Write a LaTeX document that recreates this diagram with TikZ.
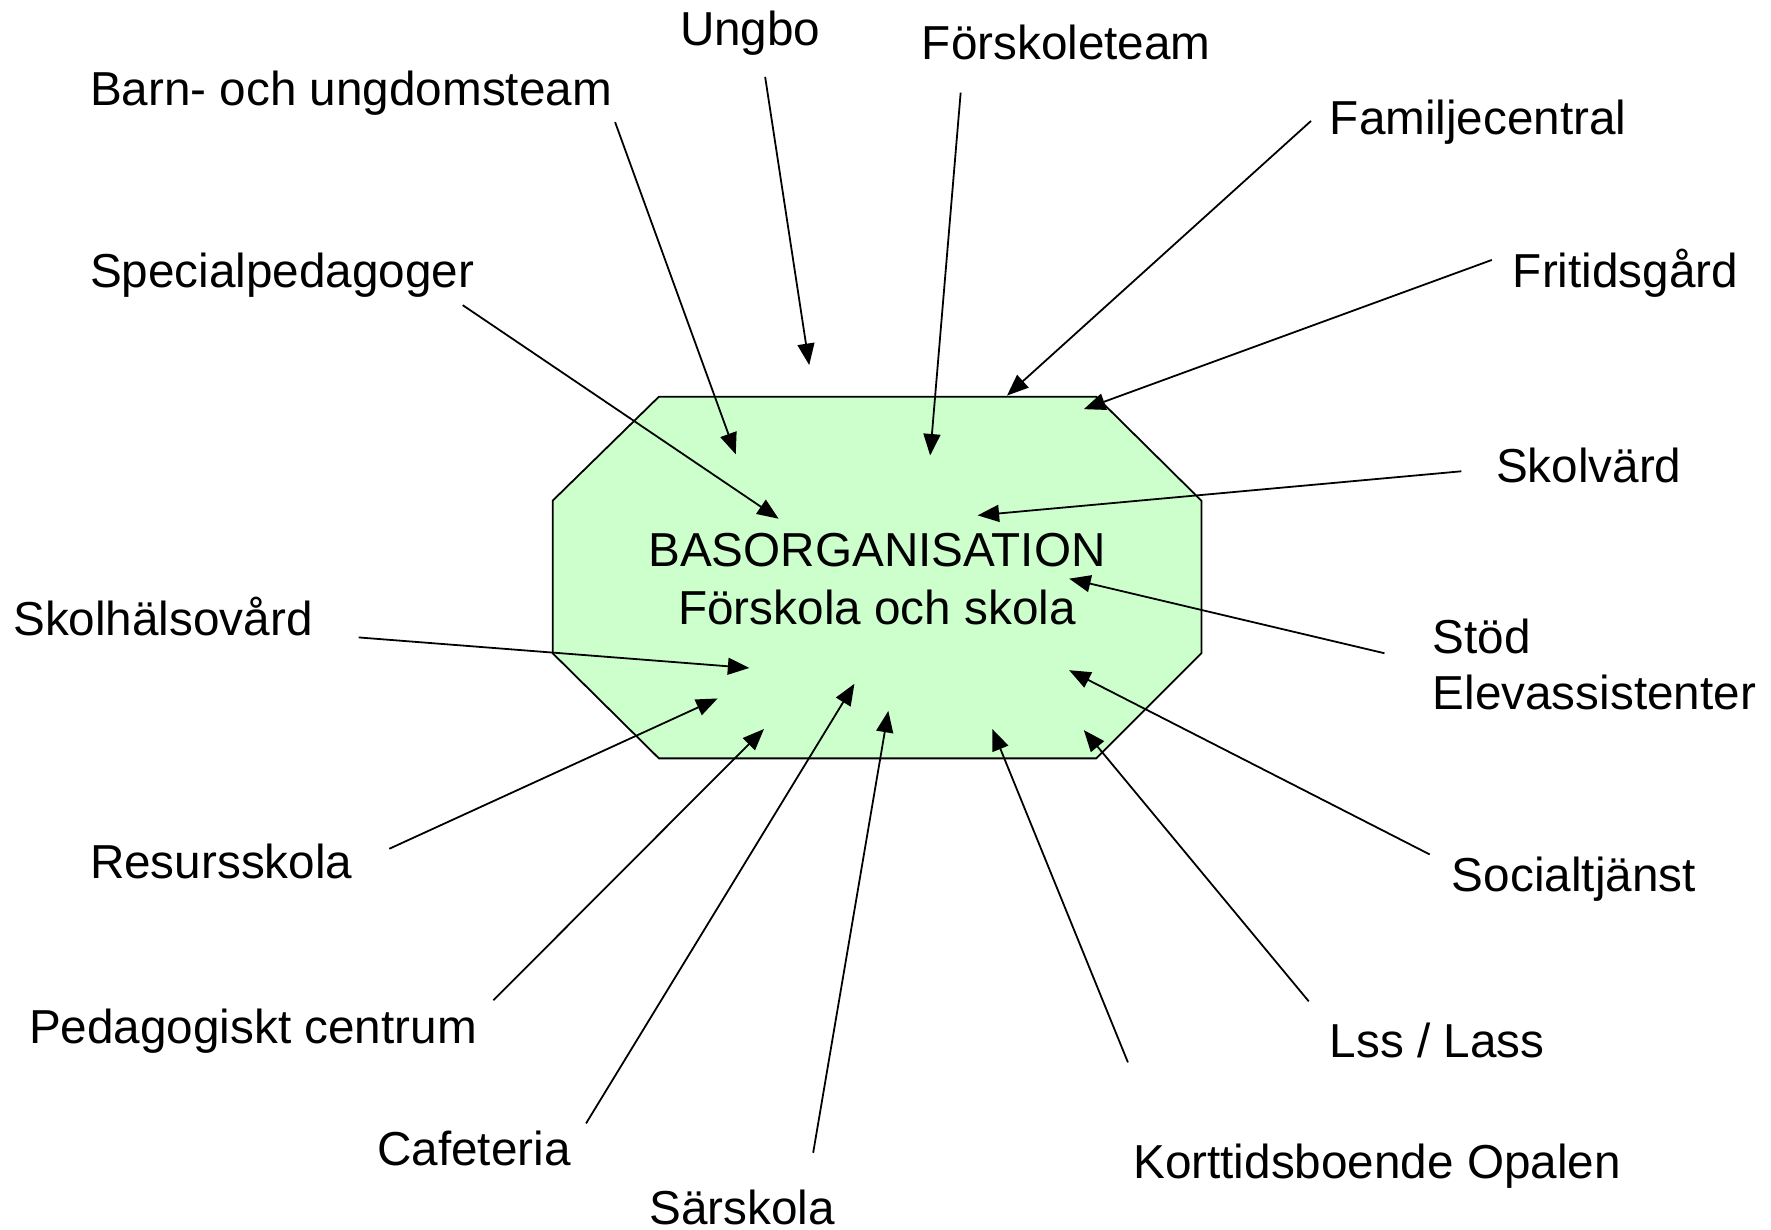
\documentclass[tikz,border=0pt]{standalone}
\usepackage{fontspec}
\setmainfont{Liberation Sans}
\usetikzlibrary{arrows.meta}
\definecolor{basgreen}{HTML}{CCFFCC}
\tikzset{
  lbl/.style={anchor=base west, inner sep=0pt, font=\fontsize{12}{14.5}\selectfont},
  arr/.style={line width=0.45pt, -{Triangle[length=1.9mm, width=1.5mm]}}
}
\begin{document}
\begin{tikzpicture}
\useasboundingbox (0,0) rectangle (15.67,-10.88);
%\draw (0,0) rectangle (15.67,-10.88);

% the octagon
\draw[line width=0.45pt, fill=basgreen] (5.83,-3.51) -- (9.70,-3.51) -- (10.63,-4.43) -- (10.63,-5.78)
  -- (9.70,-6.71) -- (5.83,-6.71) -- (4.89,-5.78) -- (4.89,-4.43) -- cycle;
\draw (7.76,-5.125) node[inner sep=0pt, align=center, font=\fontsize{12}{14.5}\selectfont] (bas)
  {BASORGANISATION\\Förskola och skola};

% labels
\draw (6.01,-0.40) node[lbl] (ungbo) {Ungbo};
\draw (8.15,-0.53) node[lbl] (forsk) {Förskoleteam};
\draw (0.79,-0.93) node[lbl] (barn) {Barn- och ungdomsteam};
\draw (11.76,-1.19) node[lbl] (famil) {Familjecentral};
\draw (0.79,-2.54) node[lbl] (spec) {Specialpedagoger};
\draw (13.38,-2.54) node[lbl] (frit) {Fritidsgård};
\draw (13.23,-4.27) node[lbl] (skolv) {Skolvärd};
\draw (12.67,-5.78) node[lbl] (stod) {Stöd};
\draw (12.67,-6.28) node[lbl] (elev) {Elevassistenter};
\draw (0.11,-5.62) node[lbl] (skolh) {Skolhälsovård};
\draw (0.79,-7.77) node[lbl] (res) {Resursskola};
\draw (12.84,-7.89) node[lbl] (soc) {Socialtjänst};
\draw (0.25,-9.23) node[lbl] (ped) {Pedagogiskt centrum};
\draw (11.76,-9.36) node[lbl] (lss) {Lss / Lass};
\draw (3.33,-10.31) node[lbl] (caf) {Cafeteria};
\draw (10.02,-10.43) node[lbl] (kort) {Korttidsboende Opalen};
\draw (5.74,-10.83) node[lbl] (sar) {Särskola};

% arrow ends in the octagon
\coordinate (t-ungbo) at (7.16,-3.23);
\coordinate (t-barn) at (6.51,-4.02);
\coordinate (t-forsk) at (8.23,-4.03);
\coordinate (t-famil) at (8.91,-3.50);
\coordinate (t-frit) at (9.59,-3.62);
\coordinate (t-spec) at (6.89,-4.59);
\coordinate (t-skolv) at (8.65,-4.56);
\coordinate (t-stod) at (9.46,-5.12);
\coordinate (t-skolh) at (6.63,-5.91);
\coordinate (t-soc) at (9.46,-5.93);
\coordinate (t-res) at (6.35,-6.18);
\coordinate (t-ped) at (6.76,-6.45);
\coordinate (t-lss) at (9.59,-6.46);
\coordinate (t-caf) at (7.56,-6.05);
\coordinate (t-sar) at (7.86,-6.29);
\coordinate (t-kort) at (8.78,-6.45);

\draw[arr] ([shift={(0.76,-0.28)}]ungbo.base west) -- (t-ungbo);
\draw[arr] ([shift={(0.02,-0.15)}]barn.base east) -- (t-barn);
\draw[arr] ([shift={(0.35,-0.29)}]forsk.base west) -- (t-forsk);
\draw[arr] ([shift={(-0.16,0.12)}]famil.base west) -- (t-famil);
\draw[arr] ([shift={(-0.18,0.24)}]frit.base west) -- (t-frit);
\draw[arr] ([shift={(-0.11,-0.16)}]spec.base east) -- (t-spec);
\draw[arr] ([shift={(-0.30,0.10)}]skolv.base west) -- (t-skolv);
\draw[arr] ([shift={(-0.42,0)}]stod.base west) -- (t-stod);
\draw[arr] ([shift={(0.40,-0.02)}]skolh.base east) -- (t-skolh);
\draw[arr] ([shift={(-0.19,0.33)}]soc.base west) -- (t-soc);
\draw[arr] ([shift={(0.32,0.26)}]res.base east) -- (t-res);
\draw[arr] ([shift={(0.14,0.38)}]ped.base east) -- (t-ped);
\draw[arr] ([shift={(-0.18,0.50)}]lss.base west) -- (t-lss);
\draw[arr] ([shift={(0.13,0.37)}]caf.base east) -- (t-caf);
\draw[arr] ([shift={(-0.20,0.63)}]sar.base east) -- (t-sar);
\draw[arr] ([shift={(-0.04,1.03)}]kort.base west) -- (t-kort);
\end{tikzpicture}
\end{document}
